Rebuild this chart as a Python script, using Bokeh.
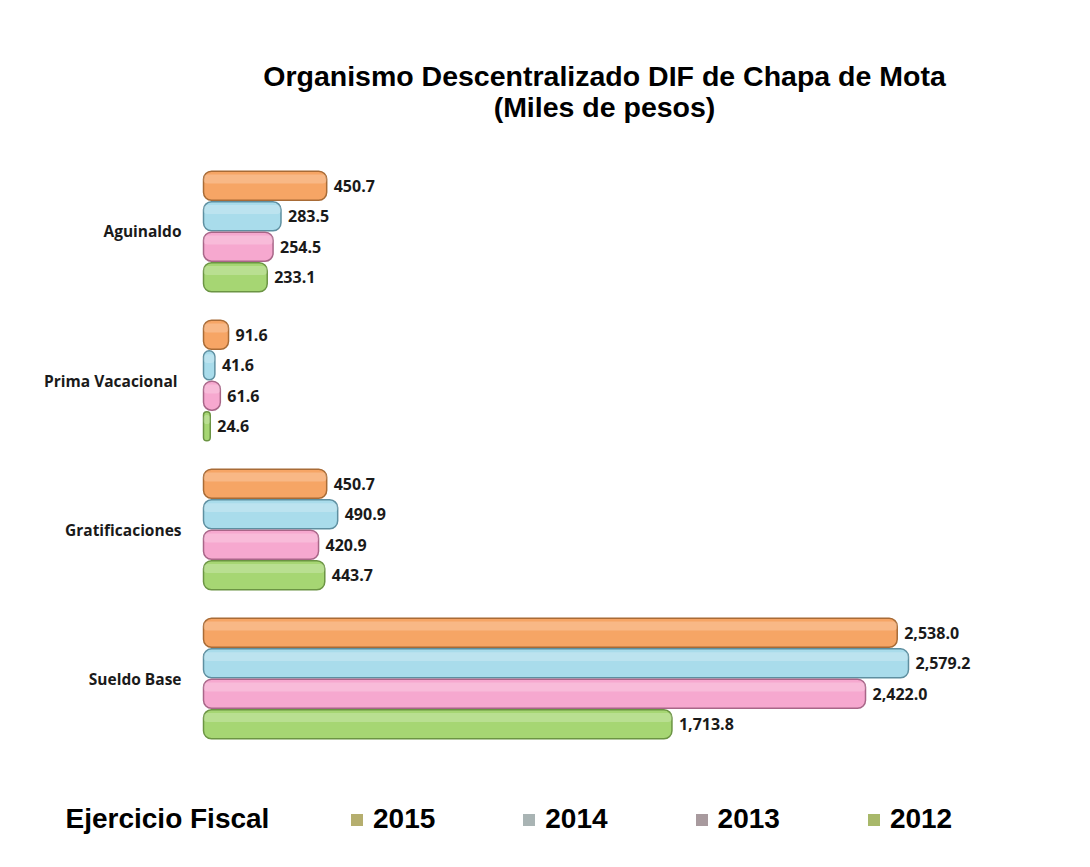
from bokeh.plotting import figure
from bokeh.models import Range1d, Legend, LegendItem, Label, ColumnDataSource
from bokeh.transform import dodge
from bokeh.core.properties import value
from bokeh.embed import file_html
from bokeh.resources import INLINE

# ---- data ----
categories = ["Aguinaldo", "Prima  Vacacional", "Gratificaciones", "Sueldo Base"]
years = ["2015", "2014", "2013", "2012"]
v2015 = [450.7, 91.6, 450.7, 2538.0]
v2014 = [283.5, 41.6, 490.9, 2579.2]
v2013 = [254.5, 61.6, 420.9, 2422.0]
v2012 = [233.1, 24.6, 443.7, 1713.8]

title_line1 = "Organismo Descentralizado DIF de Chapa de Mota"
title_line2 = "(Miles de pesos)"
legend_title = "Ejercicio Fiscal"

series = {"2015": v2015, "2014": v2014, "2013": v2013, "2012": v2012}

# ---- styles ----
fill_colors = {"2015": "#F6A565", "2014": "#A9DCEB", "2013": "#F6A8CF", "2012": "#A6D673"}
line_colors = {"2015": "#A86B36", "2014": "#5E8FA0", "2013": "#A86688", "2012": "#6B9443"}
legend_colors = {"2015": "#B5AE6E", "2014": "#A9B4B4", "2013": "#A89A9E", "2012": "#A8B86A"}
offsets = {"2015": 0.307, "2014": 0.102, "2013": -0.102, "2012": -0.307}

# category slot positions (top to bottom)
pos = [-i for i in range(len(categories))]

data = {"cat": categories, "pos": pos}
for yr in years:
    data["v" + yr] = series[yr]
    data["l" + yr] = [f"{v:,.1f}" for v in series[yr]]
src = ColumnDataSource(data)

p = figure(width=1090, height=867,
           x_range=Range1d(-742.7, 3245.1),
           y_range=Range1d(-4.268, 1.550),
           output_backend="svg", toolbar_location=None, title=None,
           min_border_left=0, min_border_right=0,
           min_border_top=0, min_border_bottom=0)

# title (two centred lines)
for txt, yy in ((title_line1, 792), (title_line2, 761)):
    p.add_layout(Label(x=604, y=yy, x_units="screen", y_units="screen", text=txt,
                       text_align="center", text_baseline="middle",
                       text_font="Liberation Sans", text_font_style="bold",
                       text_font_size="28.5px", text_color="black"))

legend_items = []
for yr in years:
    off = offsets[yr]
    p.hbar(y=dodge("pos", off), left=0, right="v" + yr, height=0.195,
           source=src, fill_color=fill_colors[yr], line_color=line_colors[yr],
           line_width=1.5, border_radius=8)
    p.hbar(y=dodge("pos", off + 0.045), left=0, right="v" + yr, height=0.06,
           source=src, fill_color="white", fill_alpha=0.22, line_color=None, border_radius=4)
    p.text(x="v" + yr, y=dodge("pos", off), text="l" + yr, source=src,
           x_offset=7, text_baseline="middle", text_align="left",
           text_font=value("Open Sans"), text_font_style="bold", text_font_size="16px",
           text_color="#1a1a1a")
    # legend swatch renderer (zero-height bars: only the legend square is visible)
    r = p.hbar(y=dodge("pos", off), left=0, right="v" + yr, height=0, source=src,
               fill_color=legend_colors[yr], line_color=None)
    legend_items.append(LegendItem(label=yr, renderers=[r]))

# category labels
p.text(x=0, y="pos", text="cat", source=src, x_offset=-22, text_align="right",
       text_baseline="middle", text_font=value("Open Sans"), text_font_style="bold",
       text_font_size="15.5px", text_color="#1a1a1a")

legend = Legend(items=legend_items, orientation="horizontal", location=(349, 32),
                label_text_font="Liberation Sans", label_text_font_size="28px",
                label_text_font_style="bold", label_text_color="black",
                glyph_width=15, glyph_height=15,
                label_standoff=9, spacing=86, padding=0, margin=0,
                border_line_color=None, background_fill_alpha=0)
p.add_layout(legend)

p.add_layout(Label(x=65, y=49, x_units="screen", y_units="screen", text=legend_title,
                   text_font="Liberation Sans", text_font_style="bold",
                   text_font_size="28px", text_baseline="middle", text_color="black"))

p.xaxis.visible = False
p.yaxis.visible = False
p.xgrid.visible = False
p.ygrid.visible = False
p.outline_line_color = None

open("out.html", "w").write(file_html(p, INLINE))
